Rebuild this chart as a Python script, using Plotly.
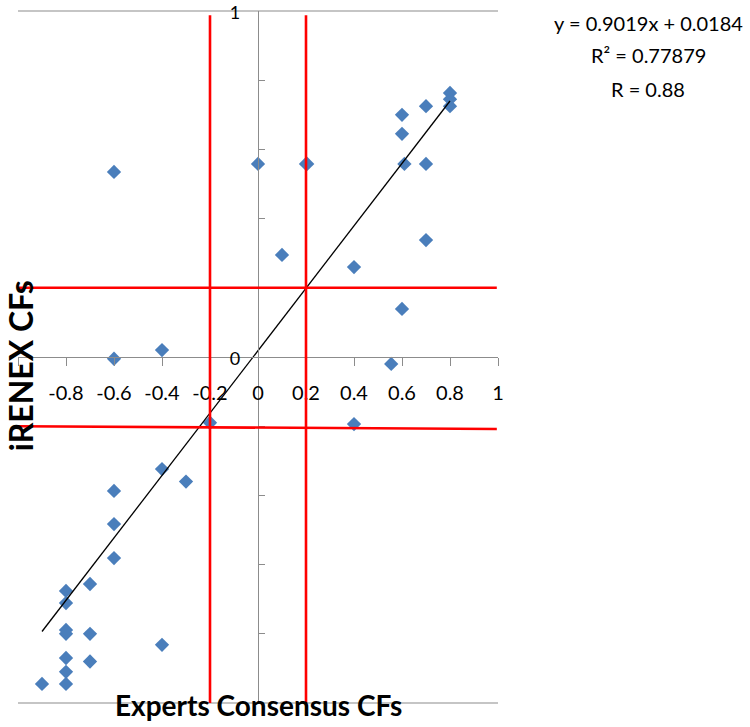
import plotly.graph_objects as go

# ---- data ----
experts_cf = [-0.6, 0.0, 0.2, 0.205, 0.6, 0.6, 0.7, 0.8, 0.8, 0.8, 0.61, 0.7, 0.7,
              0.1, 0.4, 0.6, 0.555, 0.4, -0.6, -0.4, -0.2, -0.4, -0.3, -0.6, -0.6,
              -0.6, -0.7, -0.8, -0.8, -0.8, -0.8, -0.7, -0.4, -0.8, -0.7, -0.8, -0.9, -0.8]
irenex_cf = [0.535, 0.558, 0.558, 0.558, 0.70, 0.645, 0.725, 0.763, 0.745, 0.725, 0.558, 0.558, 0.338,
             0.295, 0.26, 0.139, -0.02, -0.194, -0.005, 0.02, -0.19, -0.324, -0.36, -0.387, -0.483,
             -0.581, -0.656, -0.676, -0.711, -0.789, -0.80, -0.80, -0.832, -0.87, -0.88, -0.91, -0.945, -0.945]

slope = 0.9019
intercept = 0.0184
r_squared = 0.77879
r_value = 0.88

x_tick_vals = [-1, -0.8, -0.6, -0.4, -0.2, 0, 0.2, 0.4, 0.6, 0.8, 1]
x_tick_text = ["", "-0.8", "-0.6", "-0.4", "-0.2", "0", "0.2", "0.4", "0.6", "0.8", "1"]
y_tick_vals = [-1, -0.8, -0.6, -0.4, -0.2, 0, 0.2, 0.4, 0.6, 0.8, 1]
y_tick_text = ["", "", "", "", "", "0", "", "", "", "", "1"]

# threshold (red) lines
red_vertical_x = [-0.2, 0.2]
red_vertical_top = 0.988
red_horizontal_left = [0.2, -0.2]
red_horizontal_right = [0.2, -0.208]

FONT = "Lato"
GRAY = "#8C8C8C"

fig = go.Figure()

fig.add_trace(go.Scatter(
    x=experts_cf, y=irenex_cf, mode="markers",
    marker=dict(symbol="diamond", size=11, color="#4A7EBB", line=dict(width=0)),
    showlegend=False, hoverinfo="x+y"))

tx = [min(experts_cf), max(experts_cf)]
ty = [slope * v + intercept for v in tx]
fig.add_trace(go.Scatter(x=tx, y=ty, mode="lines",
                         line=dict(color="black", width=1.3),
                         showlegend=False, hoverinfo="skip"))

shapes = []
# frame lines top and bottom
for yy in (0, 1):
    shapes.append(dict(type="line", xref="paper", yref="paper", x0=0, x1=1, y0=yy, y1=yy,
                       line=dict(color=GRAY, width=1.2), layer="below"))
for xv in red_vertical_x:
    shapes.append(dict(type="line", xref="x", yref="y", x0=xv, x1=xv, y0=-1, y1=red_vertical_top,
                       line=dict(color="#FF0000", width=2.6), layer="above"))
for yl, yr in zip(red_horizontal_left, red_horizontal_right):
    shapes.append(dict(type="line", xref="x", yref="y", x0=-1, x1=0.995, y0=yl, y1=yr,
                       line=dict(color="#FF0000", width=2.6), layer="above"))

annotations = [
    dict(text=f"y = {slope}x + {intercept}", xref="paper", yref="paper", x=1.3125, y=0.982,
         showarrow=False, xanchor="center", yanchor="middle", font=dict(family=FONT, size=20, color="black")),
    dict(text=f"R² = {r_squared}", xref="paper", yref="paper", x=1.3125, y=0.936,
         showarrow=False, xanchor="center", yanchor="middle", font=dict(family=FONT, size=20, color="black")),
    dict(text=f"R = {r_value}", xref="paper", yref="paper", x=1.3125, y=0.888,
         showarrow=False, xanchor="center", yanchor="middle", font=dict(family=FONT, size=20, color="black")),
    dict(text="<b>iRENEX CFs</b>", xref="paper", yref="paper", x=0.004, y=0.488, textangle=-90,
         showarrow=False, xanchor="center", yanchor="middle", font=dict(family=FONT, size=32, color="black")),
    dict(text="<b>Experts Consensus CFs</b>", xref="paper", yref="paper", x=0.502, y=-0.003,
         showarrow=False, xanchor="center", yanchor="middle", font=dict(family=FONT, size=28, color="black")),
]

fig.update_layout(
    width=750, height=727,
    margin=dict(l=18, r=252, t=11, b=24, autoexpand=False),
    paper_bgcolor="white", plot_bgcolor="white",
    font=dict(family=FONT, color="black"),
    shapes=shapes, annotations=annotations,
    xaxis=dict(range=[-1, 1], anchor="free", position=0.5, showgrid=False, zeroline=False,
               automargin=False,
               showline=True, linecolor=GRAY, linewidth=1.2,
               ticks="outside", ticklen=8, tickcolor=GRAY, tickwidth=1.2,
               tickvals=x_tick_vals, ticktext=x_tick_text, ticklabelstandoff=10,
               ticklabeloverflow="allow",
               tickfont=dict(family=FONT, size=20, color="black")),
    yaxis=dict(range=[-1, 1], anchor="free", position=0.5, showgrid=False, zeroline=False,
               automargin=False,
               showline=True, linecolor=GRAY, linewidth=1.2,
               ticks="inside", ticklen=6, tickcolor=GRAY, tickwidth=1.2,
               tickvals=y_tick_vals, ticktext=y_tick_text, ticklabelstandoff=14,
               ticklabelshift=2,
               ticklabeloverflow="allow",
               tickfont=dict(family=FONT, size=18, color="black")),
)

fig.write_html("out.html", config={"displayModeBar": False},
               post_script="document.body.style.margin='0';document.body.style.overflow='hidden';")
